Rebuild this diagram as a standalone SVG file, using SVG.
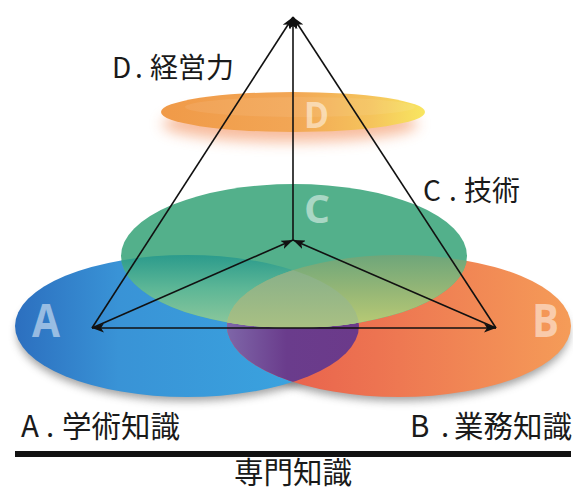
<svg xmlns="http://www.w3.org/2000/svg" width="573" height="491" viewBox="0 0 573 491">
<style>
.lbl{font-family:"Noto Sans CJK JP","Noto Sans",sans-serif;font-size:28px;fill:#1a1a1a}
.lbl2{font-family:"Noto Sans CJK JP","Noto Sans",sans-serif;font-size:29.5px;fill:#1a1a1a}
.big{font-family:"Open Sans","Noto Sans",sans-serif;font-weight:bold;fill:#ffffff;fill-opacity:0.5}
.ln{stroke:#111;stroke-width:1.6;fill:none}
</style>
<defs>
<marker id="ah" viewBox="0 0 12 9" markerWidth="12" markerHeight="9" refX="12" refY="4.5" markerUnits="userSpaceOnUse" orient="auto-start-reverse">
<path d="M0,0 L12,4.5 L0,9 L3,4.5 z" fill="#111"/>
</marker>
<filter id="blur4" x="-20%" y="-40%" width="140%" height="180%"><feGaussianBlur stdDeviation="4"/></filter>
<filter id="blur7" x="-30%" y="-150%" width="160%" height="400%"><feGaussianBlur stdDeviation="7"/></filter>
<clipPath id="clipA"><ellipse cx="187" cy="326" rx="172" ry="71"/></clipPath>
<clipPath id="clipC"><ellipse cx="294" cy="256" rx="173" ry="72"/></clipPath>
<linearGradient id="gA" x1="15" y1="0" x2="359" y2="0" gradientUnits="userSpaceOnUse">
<stop offset="0" stop-color="#2c6fbf"/><stop offset="0.3" stop-color="#3993d6"/><stop offset="1" stop-color="#3aa8e2"/></linearGradient>
<linearGradient id="gB" x1="227" y1="0" x2="571" y2="0" gradientUnits="userSpaceOnUse">
<stop offset="0" stop-color="#e6574a"/><stop offset="0.5" stop-color="#ee7852"/><stop offset="1" stop-color="#f59c58"/></linearGradient>
<linearGradient id="gP" x1="227" y1="0" x2="359" y2="0" gradientUnits="userSpaceOnUse">
<stop offset="0" stop-color="#7e66a8"/><stop offset="0.45" stop-color="#6a3c8c"/><stop offset="1" stop-color="#6b3a8a"/></linearGradient>
<linearGradient id="gCA" x1="0" y1="255" x2="0" y2="328" gradientUnits="userSpaceOnUse">
<stop offset="0" stop-color="#2b9b8c"/><stop offset="0.45" stop-color="#5cb696"/><stop offset="1" stop-color="#90c99c"/></linearGradient>
<linearGradient id="gCB" x1="0" y1="255" x2="0" y2="328" gradientUnits="userSpaceOnUse">
<stop offset="0" stop-color="#6ea67a"/><stop offset="0.5" stop-color="#96b776"/><stop offset="1" stop-color="#bccc74"/></linearGradient>
<linearGradient id="gCAB" x1="0" y1="262" x2="0" y2="328" gradientUnits="userSpaceOnUse">
<stop offset="0" stop-color="#84ae8a"/><stop offset="1" stop-color="#a9c083"/></linearGradient>
<linearGradient id="gD" x1="161" y1="0" x2="425" y2="0" gradientUnits="userSpaceOnUse">
<stop offset="0" stop-color="#f09a48"/><stop offset="0.5" stop-color="#f2a655"/><stop offset="0.8" stop-color="#f5c45c"/><stop offset="1" stop-color="#f8e660"/></linearGradient>
</defs>

<g id="shadows">
<ellipse cx="187" cy="333" rx="170" ry="68" fill="#555" opacity="0.55" filter="url(#blur4)"/>
<ellipse cx="399" cy="333" rx="170" ry="68" fill="#555" opacity="0.55" filter="url(#blur4)"/>
</g>

<g id="node-A">
<ellipse cx="187" cy="326" rx="172" ry="71" fill="url(#gA)"/>
</g>
<g id="node-B">
<ellipse cx="399" cy="326" rx="172" ry="71" fill="url(#gB)"/>
<ellipse cx="399" cy="326" rx="172" ry="71" fill="url(#gP)" clip-path="url(#clipA)"/>
</g>
<g id="node-C">
<ellipse cx="294" cy="256" rx="173" ry="72" fill="#53b08b"/>
<g clip-path="url(#clipC)">
<ellipse cx="187" cy="326" rx="172" ry="71" fill="url(#gCA)"/>
<ellipse cx="399" cy="326" rx="172" ry="71" fill="url(#gCB)"/>
<ellipse cx="399" cy="326" rx="172" ry="71" fill="url(#gCAB)" clip-path="url(#clipA)"/>
</g>
</g>
<g id="node-D">
<ellipse cx="290" cy="124" rx="128" ry="18" fill="#f07a3c" opacity="0.5" filter="url(#blur7)"/>
<ellipse cx="293" cy="112" rx="132" ry="20" fill="url(#gD)"/>
<ellipse cx="300" cy="107" rx="115" ry="10" fill="#ffffff" opacity="0.08"/>
</g>

<g id="letters">
<text class="big" x="32" y="337" font-size="46" textLength="28" lengthAdjust="spacingAndGlyphs">A</text>
<text class="big" x="532" y="337" font-size="46" textLength="27" lengthAdjust="spacingAndGlyphs">B</text>
<text class="big" x="304" y="223" font-size="39" textLength="26" lengthAdjust="spacingAndGlyphs">C</text>
<text class="big" x="304" y="128" font-size="36" textLength="25" lengthAdjust="spacingAndGlyphs">D</text>
</g>

<g id="connectors">
<line class="ln" x1="92" y1="328" x2="293" y2="17" marker-end="url(#ah)"/>
<line class="ln" x1="496" y1="328" x2="293" y2="17" marker-end="url(#ah)"/>
<line class="ln" x1="293" y1="240" x2="293" y2="17" marker-end="url(#ah)"/>
<line class="ln" x1="92" y1="328" x2="293" y2="240" marker-end="url(#ah)"/>
<line class="ln" x1="496" y1="328" x2="293" y2="240" marker-end="url(#ah)"/>
<line class="ln" x1="92" y1="328" x2="496" y2="328" marker-start="url(#ah)" marker-end="url(#ah)"/>
</g>

<g id="labels">
<text class="lbl" x="112 135 142 150" y="78">D. 経営力</text>
<text class="lbl" x="423 449 456 464" y="201">C. 技術</text>
<text class="lbl2" x="21 46 53 62" y="437">A. 学術知識</text>
<text class="lbl2" x="410 441 448 454" y="437">B. 業務知識</text>
<rect x="15" y="451" width="556" height="6" fill="#111"/>
<text class="lbl2" x="293" y="483" text-anchor="middle">専門知識</text>
</g>
</svg>
